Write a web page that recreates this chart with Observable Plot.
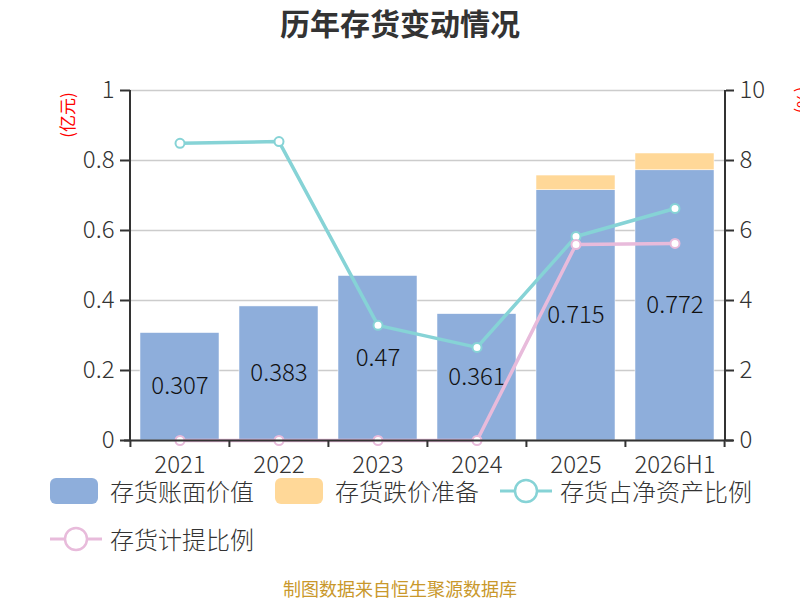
<!DOCTYPE html>
<html><head><meta charset="utf-8">
<script src="https://cdn.jsdelivr.net/npm/d3@7"></script>
<script src="https://cdn.jsdelivr.net/npm/@observablehq/plot@0.6"></script>
<style>
body{margin:0;background:#fff;font-family:"Noto Sans CJK SC","Noto Sans",sans-serif;}
#wrap{position:relative;width:800px;height:600px;overflow:hidden;}
#title{position:absolute;top:0px;left:0;width:800px;text-align:center;font-size:30px;font-weight:bold;color:#333;}
#chart{position:absolute;top:0;left:0;}
#chart svg text{font-weight:300;}
#chart svg text.unit{font-weight:400;}
.leg{position:absolute;display:flex;align-items:center;font-size:24px;font-weight:300;color:#333;white-space:nowrap;}
.sw{width:48px;height:26px;border-radius:6px;margin-right:12px;}
#foot{position:absolute;top:575px;left:0;width:800px;text-align:center;font-size:18px;color:#c9982b;}
</style></head>
<body><div id="wrap">
<div id="title">历年存货变动情况</div>
<div id="chart"></div>
<div class="leg" style="left:50px;top:473px"><div class="sw" style="background:#8eaedb"></div>存货账面价值</div>
<div class="leg" style="left:275px;top:473px"><div class="sw" style="background:#ffd898"></div>存货跌价准备</div>
<div class="leg" style="left:500px;top:473px"><svg width="52" height="30" style="margin-right:8px"><line x1="0" y1="15" x2="52" y2="15" stroke="#86d3d6" stroke-width="3"/><circle cx="26" cy="15" r="11" fill="#fff" stroke="#86d3d6" stroke-width="2.5"/></svg>存货占净资产比例</div>
<div class="leg" style="left:50px;top:521px"><svg width="52" height="30" style="margin-right:8px"><line x1="0" y1="15" x2="52" y2="15" stroke="#e8bbdb" stroke-width="3"/><circle cx="26" cy="15" r="11" fill="#fff" stroke="#e8bbdb" stroke-width="2.5"/></svg>存货计提比例</div>
<div id="foot">制图数据来自恒生聚源数据库</div>
</div>
<script>
const years = ["2021","2022","2023","2024","2025","2026H1"];
const bookValue = [0.307, 0.383, 0.47, 0.361, 0.715, 0.772];
const reserve = [0, 0, 0, 0, 0.042, 0.048];
const ratioNetAssets = [8.49, 8.54, 3.29, 2.66, 5.83, 6.63];
const ratioProvision = [0, 0, 0, 0, 5.6, 5.63];
const leftTicks = [0, 0.2, 0.4, 0.6, 0.8, 1];
const rightTicks = [0, 2, 4, 6, 8, 10];

const bars = years.flatMap((y, i) => [
  {year: y, type: "存货账面价值", v: bookValue[i], order: 0},
  {year: y, type: "存货跌价准备", v: reserve[i], order: 1}
]);
const rows = years.map((y, i) => ({year: y, book: bookValue[i], r1: ratioNetAssets[i] / 10, r2: ratioProvision[i] / 10}));

const W = 800, mL = 130, mR = 75;
const step = (W - mL - mR) / 6;
const font = '"Noto Sans CJK SC","Noto Sans",sans-serif';

const plot = Plot.plot({
  width: W, height: 480,
  marginLeft: mL, marginRight: mR, marginTop: 90, marginBottom: 40,
  style: {fontFamily: font, background: "transparent", overflow: "visible"},
  x: {domain: years, paddingInner: 0.2, paddingOuter: 0.1, axis: null},
  y: {domain: [0, 1], axis: null},
  color: {domain: ["存货账面价值", "存货跌价准备"], range: ["#8eaedb", "#ffd898"]},
  marks: [
    Plot.gridY(leftTicks, {stroke: "#ccc", strokeOpacity: 1, strokeWidth: 1.5}),
    Plot.barY(bars, Plot.stackY({x: "year", y: "v", fill: "type", order: "order", stroke: "#fff", strokeWidth: 0.5})),
    Plot.text(rows, {x: "year", y: d => d.book / 2, text: d => String(d.book), fontSize: 24, fill: "#111"}),
    Plot.line(rows, {x: "year", y: "r1", stroke: "#86d3d6", strokeWidth: 3.5}),
    Plot.dot(rows, {x: "year", y: "r1", r: 4.5, fill: "#fff", stroke: "#86d3d6", strokeWidth: 2}),
    Plot.line(rows, {x: "year", y: "r2", stroke: "#e8bbdb", strokeWidth: 3.5}),
    Plot.dot(rows, {x: "year", y: "r2", r: 4.5, fill: "#fff", stroke: "#e8bbdb", strokeWidth: 2}),
    Plot.axisY({anchor: "left", ticks: leftTicks, tickSize: 10, tickPadding: 6, fontSize: 24, color: "#333", stroke: "#333", strokeWidth: 2, tickFormat: d => String(d)}),
    Plot.axisY({anchor: "right", ticks: leftTicks, tickSize: 8, tickPadding: 6, fontSize: 24, color: "#333", stroke: "#333", strokeWidth: 2, tickFormat: d => String(Math.round(d * 10))}),
    Plot.ruleY([0], {stroke: "#333", strokeWidth: 2, insetLeft: -6, insetRight: -8}),
    Plot.ruleX(years, {x: d => d, dx: -step / 2, y1: 0, y2: -0.02, stroke: "#333", strokeWidth: 2}),
    Plot.ruleX(years.slice(-1), {x: d => d, dx: step / 2, y1: 0, y2: -0.02, stroke: "#333", strokeWidth: 2}),
    Plot.text(years, {x: d => d, y: 0, dy: 25, text: d => d, fontSize: 24, fill: "#333"})
  ]
});
document.getElementById("chart").appendChild(plot);
</script>
<script>
(function(){
  const svg = d3.select("#chart svg");
  svg.append("text").attr("class","unit").attr("transform","translate(74,115) rotate(-90)").attr("text-anchor","middle").attr("fill","red").style("font-size","17px").text("(亿元)");
  svg.append("text").attr("class","unit").attr("transform","translate(797,100) rotate(90)").attr("text-anchor","middle").attr("fill","red").style("font-size","17px").text("(%)");
  svg.append("line").attr("x1",130).attr("x2",130).attr("y1",90).attr("y2",440).attr("stroke","#333").attr("stroke-width",2);
  svg.append("line").attr("x1",725).attr("x2",725).attr("y1",90).attr("y2",440).attr("stroke","#333").attr("stroke-width",2);
})();
</script>
</body></html>
